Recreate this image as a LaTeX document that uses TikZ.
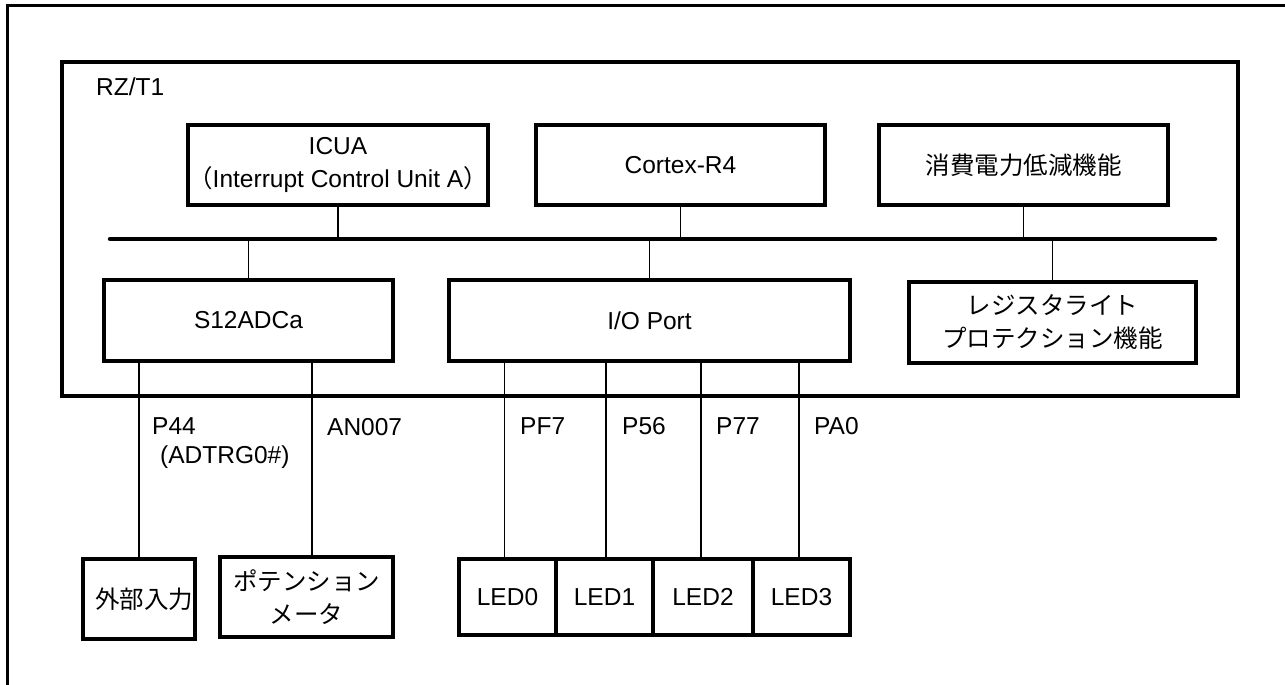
\documentclass[tikz,border=0pt]{standalone}
\usepackage{fontspec}
\setmainfont{Liberation Sans}
\newfontfamily\jp{Noto Sans CJK JP}
\usetikzlibrary{calc}
\newcommand\fs{\fontsize{24.5pt}{33pt}\selectfont}
\begin{document}
\begin{tikzpicture}[x=1pt,y=-1pt,
  box/.style={draw, line width=4pt, inner sep=0pt, align=center, font=\fs},
  wire/.style={line width=1.5pt},
  lbl/.style={anchor=west, inner sep=0pt, font=\fs}]
\useasboundingbox (0,0) rectangle (1285,685);
% outer frame
\draw[line width=3pt] (7,686) -- (7,6) -- (1286,6);
% chip
\node[box, line width=4.5pt, minimum width=1176pt, minimum height=334pt] (chip) at (650,229) {};
\node[lbl] (rz) at (96,87) {RZ/T1};
% top row
\node[box, minimum width=288pt, minimum height=80pt] (icua) at (338,165) {ICUA\\{\jp （}Interrupt Control Unit A{\jp ）}};
\node[box, minimum width=289pt, minimum height=80pt] (cortex) at (680.5,165) {Cortex-R4};
\node[box, minimum width=289pt, minimum height=80pt] (lp) at (1023.5,165) {\jp 消費電力低減機能};
% bus
\coordinate (busL) at (110,239);
\coordinate (busR) at (1215,239);
\draw[line width=4.5pt, line cap=round] (busL) -- (busR);
% second row
\node[box, minimum width=289pt, minimum height=81pt] (adc) at (248.5,320.5) {S12ADCa};
\node[box, minimum width=401pt, minimum height=81pt] (io) at (649.5,320.5) {I/O Port};
\node[box, minimum width=287pt, minimum height=81pt] (rwp) at (1052.5,322.5) {\jp レジスタライト\\\jp プロテクション機能};
% bus connections
\draw[wire] (icua.south) -- (icua.south |- busL);
\draw[wire] (cortex.south) -- (cortex.south |- busL);
\draw[wire] (lp.south) -- (lp.south |- busL);
\draw[wire] (adc.north) -- (adc.north |- busL);
\draw[wire] (io.north) -- (io.north |- busL);
\draw[wire] (rwp.north) -- (rwp.north |- busL);
% external boxes
\node[box, minimum width=112pt, minimum height=80pt] (ext) at (139,599) {\hspace*{10pt}\jp 外部入力};
\node[box, minimum width=173pt, minimum height=80pt] (pot) at (306.5,597) {\jp ポテンション\\\jp メータ};
\node[box, minimum width=97pt, minimum height=76pt] (led0) at (507.5,597) {LED0};
\node[box, minimum width=97pt, minimum height=76pt] (led1) at (604.5,597) {LED1};
\node[box, minimum width=100pt, minimum height=76pt] (led2) at (703,597) {LED2};
\node[box, minimum width=97pt, minimum height=76pt] (led3) at (801.5,597) {LED3};
% pin connections
\draw[wire] (ext.north) -- (ext.north |- adc.south);
\coordinate (potpin) at ($(pot.north)+(5.5,0)$);
\draw[wire] (potpin) -- (potpin |- adc.south);
\draw[wire] ($(led0.north)+(-3,0)$) -- ($(led0.north |- io.south)+(-3,0)$);
\draw[wire] ($(led1.north)+(1.5,0)$) -- ($(led1.north |- io.south)+(1.5,0)$);
\draw[wire] ($(led2.north)+(-2,0)$) -- ($(led2.north |- io.south)+(-2,0)$);
\draw[wire] ($(led3.north)+(-2.5,0)$) -- ($(led3.north |- io.south)+(-2.5,0)$);
% pin labels
\node[lbl] (p44) at (152,426) {P44};
\node[lbl] (adtrg) at (160,457) {(ADTRG0\#)};
\node[lbl] (an007) at (327,427) {AN007};
\node[lbl] (pf7) at (520,426) {PF7};
\node[lbl] (p56) at (622,426) {P56};
\node[lbl] (p77) at (716,426) {P77};
\node[lbl] (pa0) at (814,426) {PA0};
\end{tikzpicture}
\end{document}
